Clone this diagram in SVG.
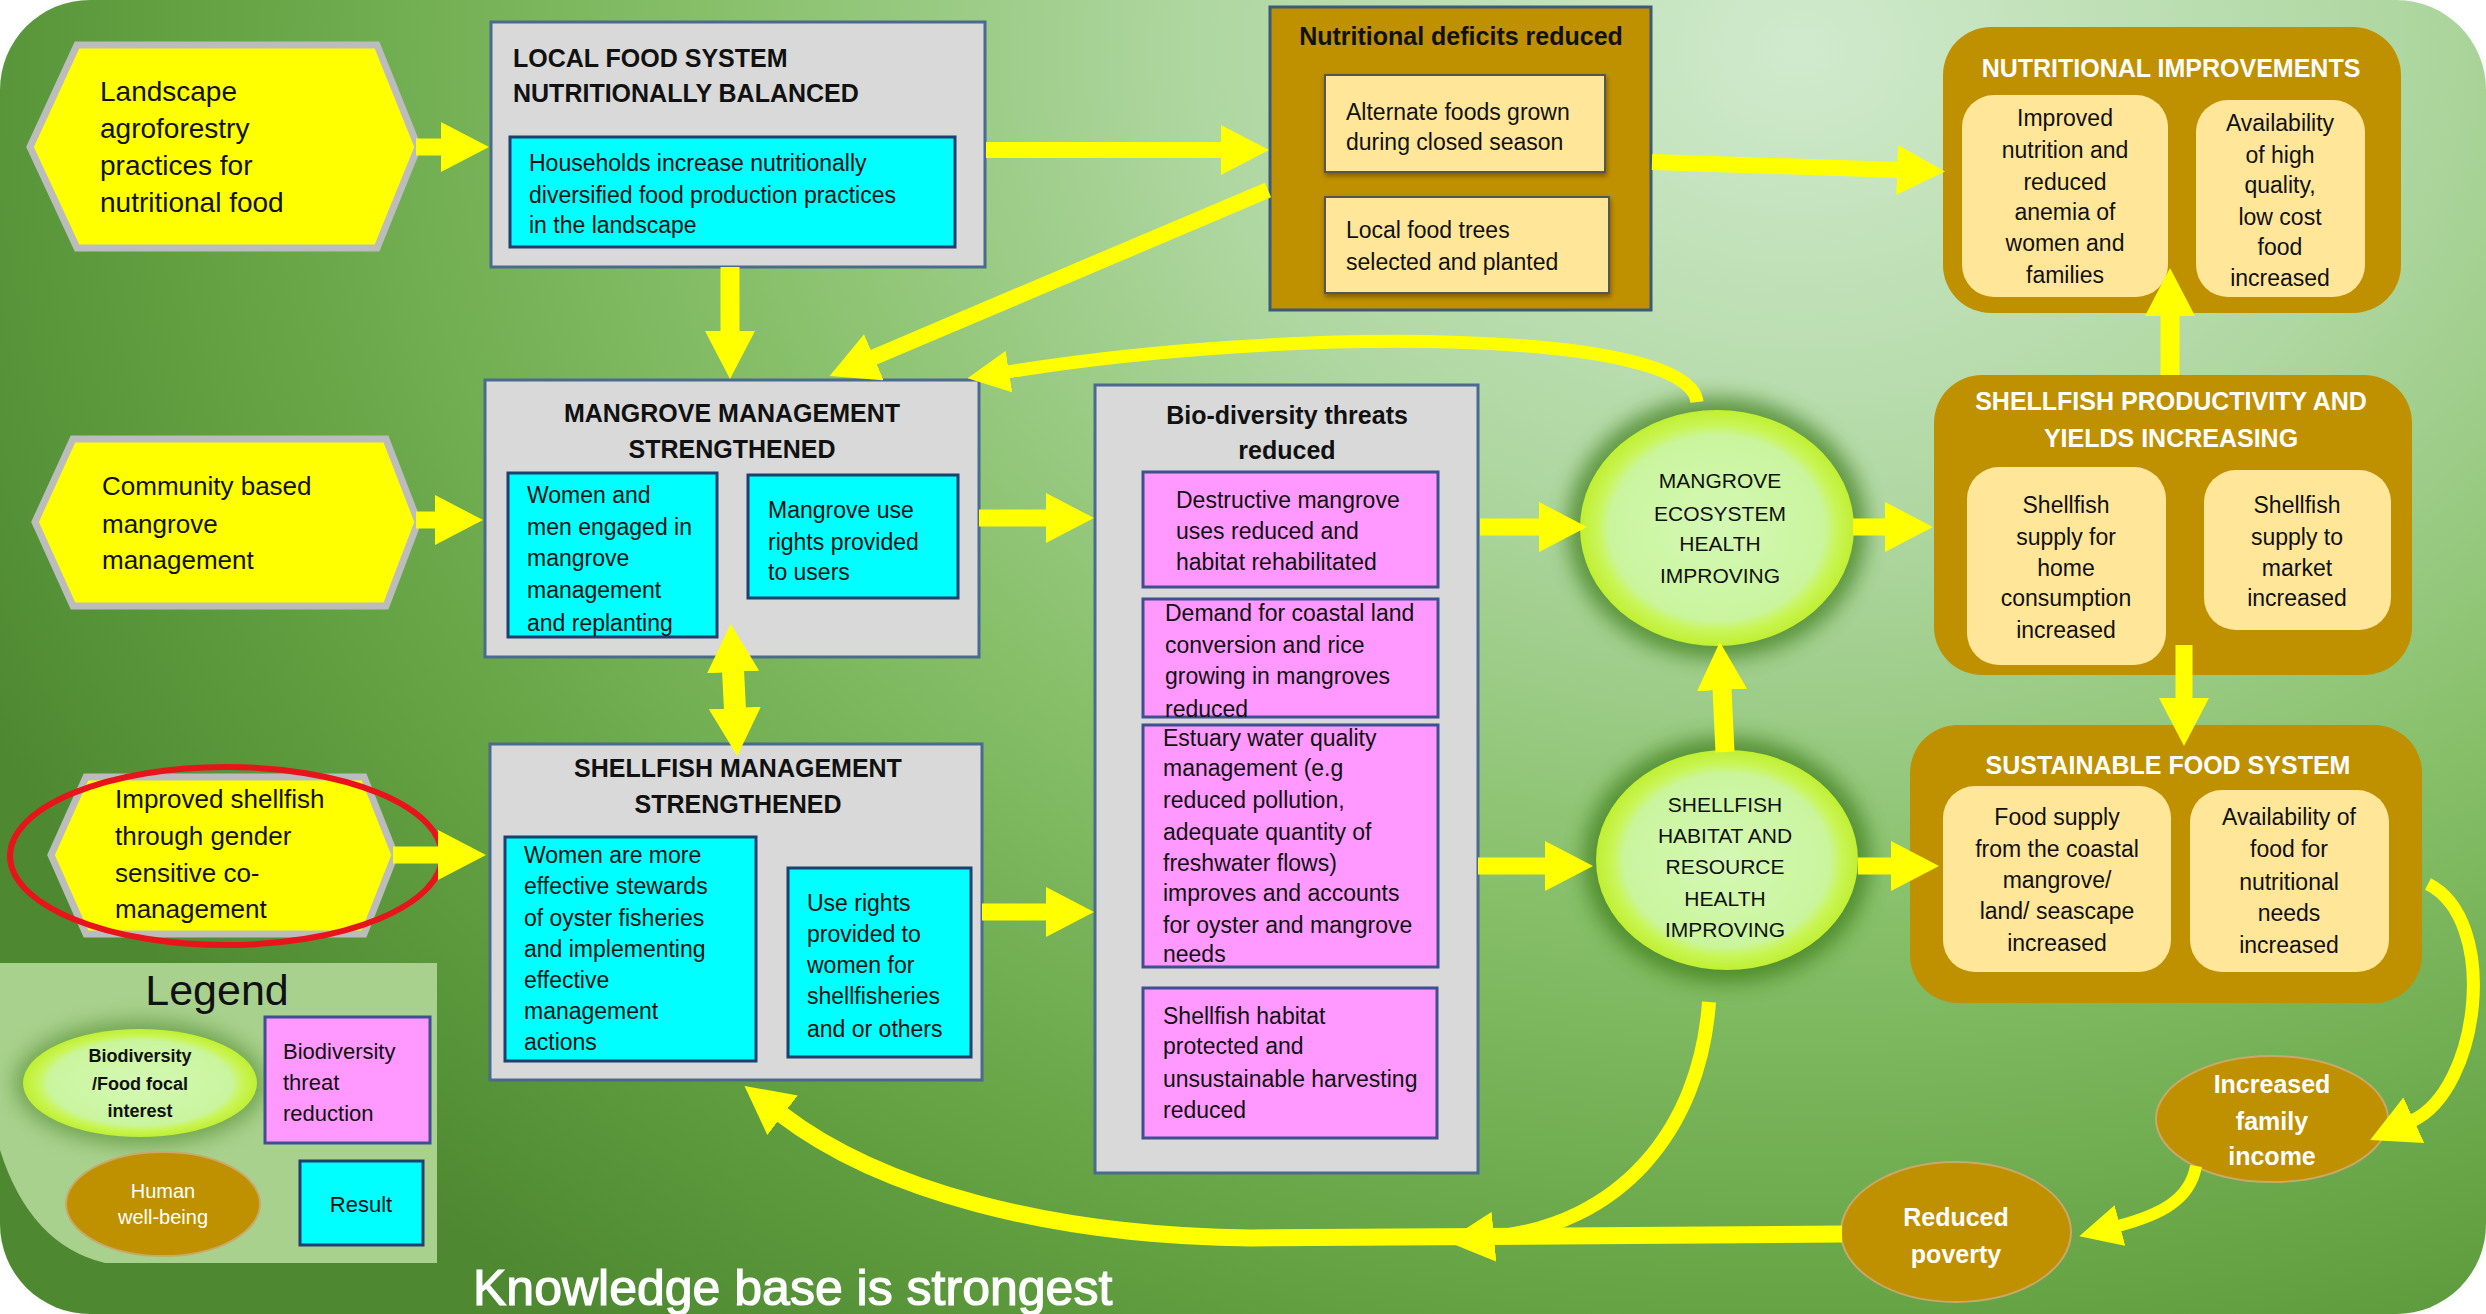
<svg xmlns="http://www.w3.org/2000/svg" width="2486" height="1314" viewBox="0 0 2486 1314">
<defs>
<radialGradient id="bg" gradientUnits="userSpaceOnUse" cx="1800" cy="50" r="1600" gradientTransform="translate(1800 50) scale(1.25 1) translate(-1800 -50)">
<stop offset="0" stop-color="#d0eacd"/>
<stop offset="0.3" stop-color="#afd7a1"/>
<stop offset="0.55" stop-color="#86bf68"/>
<stop offset="0.8" stop-color="#64a243"/>
<stop offset="1" stop-color="#4e8931"/>
</radialGradient>
<radialGradient id="eco" cx="50%" cy="50%" r="50%">
<stop offset="0" stop-color="#d4f8b4"/>
<stop offset="0.78" stop-color="#caf59e"/>
<stop offset="0.88" stop-color="#c9f555"/>
<stop offset="1" stop-color="#c0ef32"/>
</radialGradient>
<filter id="blur" x="-30%" y="-30%" width="160%" height="160%"><feGaussianBlur stdDeviation="10"/></filter>
<filter id="edge" x="-5%" y="-5%" width="110%" height="110%"><feGaussianBlur stdDeviation="6"/></filter>
<filter id="sh" x="-10%" y="-10%" width="120%" height="130%"><feDropShadow dx="1" dy="3" stdDeviation="2.5" flood-color="#000" flood-opacity="0.35"/></filter>
<marker id="ah" markerUnits="userSpaceOnUse" viewBox="0 0 48 50" markerWidth="48" markerHeight="50" refX="2" refY="25" orient="auto"><path d="M0,0 L48,25 L0,50 Z" fill="#ffff00"/></marker>
<marker id="ahs" markerUnits="userSpaceOnUse" viewBox="0 0 42 42" markerWidth="42" markerHeight="42" refX="2" refY="21" orient="auto"><path d="M0,0 L42,21 L0,42 Z" fill="#ffff00"/></marker>
<marker id="ahd" markerUnits="userSpaceOnUse" viewBox="0 0 48 52" markerWidth="48" markerHeight="52" refX="2" refY="26" orient="auto-start-reverse"><path d="M0,0 L48,26 L0,52 Z" fill="#ffff00"/></marker>
<style>
text{font-family:"Liberation Sans",Arial,sans-serif;fill:#111;}
.b{font-size:23px;}
.hx{font-size:26px;}
.tt{font-size:25px;font-weight:bold;}
.tw{font-size:25px;font-weight:bold;fill:#fff;}
.el{font-size:21px;}
.c{text-anchor:middle;}
.gray{fill:#d9d9d9;stroke:#4a6a8f;stroke-width:3;}
.cyan{fill:#00ffff;stroke:#1f3f6f;stroke-width:3;}
.pink{fill:#ff99ff;stroke:#3f4f8f;stroke-width:3;}
.gold{fill:#bf9000;}
.lt{fill:#ffe699;}
.hex{fill:#ffff00;stroke:#bcbcbc;stroke-width:7;}
.con{fill:none;stroke:#ffff00;}
</style>
</defs>

<rect x="0" y="0" width="2486" height="1314" fill="#ffffff"/>
<rect x="4" y="4" width="2478" height="1306" rx="92" fill="#9a9a9a" opacity="0.5" filter="url(#edge)"/>
<rect x="0" y="0" width="2486" height="1314" rx="90" fill="url(#bg)"/>

<g id="hex-landscape">
<polygon class="hex" points="30,147 77,45 377,45 418,147 377,248 77,248"/>
<text style="font-size:28px"><tspan x="100" y="101">Landscape</tspan><tspan x="100" y="138">agroforestry</tspan><tspan x="100" y="175">practices for</tspan><tspan x="100" y="212">nutritional food</tspan></text>
</g>

<g id="hex-community">
<polygon class="hex" points="35,522 73,439 386,439 418,522 386,606 73,606"/>
<text class="hx"><tspan x="102" y="495">Community based</tspan><tspan x="102" y="533">mangrove</tspan><tspan x="102" y="569">management</tspan></text>
</g>

<g id="hex-shellfish">
<polygon class="hex" points="51,855 86,777 364,777 395,855 364,934 86,934"/>
<text class="hx"><tspan x="115" y="808">Improved shellfish</tspan><tspan x="115" y="845">through gender</tspan><tspan x="115" y="882">sensitive co-</tspan><tspan x="115" y="918">management</tspan></text>
<ellipse cx="226" cy="856" rx="216" ry="89" fill="none" stroke="#e8141c" stroke-width="6"/>
</g>

<g id="local-food">
<rect class="gray" x="491" y="22" width="494" height="245"/>
<text class="tt"><tspan x="513" y="67">LOCAL FOOD SYSTEM</tspan><tspan x="513" y="102">NUTRITIONALLY BALANCED</tspan></text>
<rect class="cyan" x="510" y="137" width="445" height="110"/>
<text class="b"><tspan x="529" y="171">Households increase nutritionally</tspan><tspan x="529" y="203">diversified  food production practices</tspan><tspan x="529" y="233">in  the landscape</tspan></text>
</g>

<g id="nutritional-deficits">
<rect x="1270" y="7" width="381" height="303" fill="#bf9000" stroke="#3a5a7a" stroke-width="3"/>
<text class="tt c" x="1461" y="45">Nutritional deficits reduced</text>
<rect class="lt" x="1325" y="75" width="280" height="97" stroke="#555" stroke-width="2" filter="url(#sh)"/>
<text class="b"><tspan x="1346" y="120">Alternate foods grown</tspan><tspan x="1346" y="150">during closed season</tspan></text>
<rect class="lt" x="1325" y="197" width="284" height="96" stroke="#555" stroke-width="2" filter="url(#sh)"/>
<text class="b"><tspan x="1346" y="238">Local food trees</tspan><tspan x="1346" y="270">selected and planted</tspan></text>
</g>

<g id="nutritional-improvements">
<rect class="gold" x="1943" y="27" width="458" height="286" rx="48"/>
<text class="tw c" x="2171" y="77">NUTRITIONAL IMPROVEMENTS</text>
<rect class="lt" x="1962" y="95" width="206" height="202" rx="32"/>
<text class="b c"><tspan x="2065" y="126">Improved</tspan><tspan x="2065" y="158">nutrition and</tspan><tspan x="2065" y="190">reduced</tspan><tspan x="2065" y="220">anemia of</tspan><tspan x="2065" y="251">women and</tspan><tspan x="2065" y="283">families</tspan></text>
<rect class="lt" x="2196" y="100" width="169" height="197" rx="32"/>
<text class="b c"><tspan x="2280" y="131">Availability</tspan><tspan x="2280" y="163">of high</tspan><tspan x="2280" y="193">quality,</tspan><tspan x="2280" y="225">low cost</tspan><tspan x="2280" y="255">food</tspan><tspan x="2280" y="286">increased</tspan></text>
</g>

<g id="mangrove-management">
<rect class="gray" x="485" y="380" width="494" height="277"/>
<text class="tt c"><tspan x="732" y="422">MANGROVE MANAGEMENT</tspan><tspan x="732" y="458">STRENGTHENED</tspan></text>
<rect class="cyan" x="508" y="473" width="209" height="164"/>
<text class="b"><tspan x="527" y="503">Women and</tspan><tspan x="527" y="535">men engaged in</tspan><tspan x="527" y="566">mangrove</tspan><tspan x="527" y="598">management</tspan><tspan x="527" y="631">and replanting</tspan></text>
<rect class="cyan" x="748" y="475" width="210" height="123"/>
<text class="b"><tspan x="768" y="518">Mangrove use</tspan><tspan x="768" y="550">rights provided</tspan><tspan x="768" y="580">to users</tspan></text>
</g>

<g id="shellfish-management">
<rect class="gray" x="490" y="744" width="492" height="336"/>
<text class="tt c"><tspan x="738" y="777">SHELLFISH MANAGEMENT</tspan><tspan x="738" y="813">STRENGTHENED</tspan></text>
<rect class="cyan" x="505" y="837" width="251" height="224"/>
<text class="b"><tspan x="524" y="863">Women are more</tspan><tspan x="524" y="894">effective stewards</tspan><tspan x="524" y="926">of oyster fisheries</tspan><tspan x="524" y="957">and implementing</tspan><tspan x="524" y="988">effective</tspan><tspan x="524" y="1019">management</tspan><tspan x="524" y="1050">actions</tspan></text>
<rect class="cyan" x="788" y="868" width="183" height="189"/>
<text class="b"><tspan x="807" y="911">Use rights</tspan><tspan x="807" y="942">provided to</tspan><tspan x="807" y="973">women for</tspan><tspan x="807" y="1004">shellfisheries</tspan><tspan x="807" y="1037">and or others</tspan></text>
</g>

<g id="biodiversity-threats">
<rect class="gray" x="1095" y="385" width="383" height="788"/>
<text class="tt c"><tspan x="1287" y="424">Bio-diversity threats</tspan><tspan x="1287" y="459">reduced</tspan></text>
<rect class="pink" x="1143" y="472" width="295" height="115"/>
<text class="b"><tspan x="1176" y="508">Destructive mangrove</tspan><tspan x="1176" y="539">uses reduced and</tspan><tspan x="1176" y="570">habitat rehabilitated</tspan></text>
<rect class="pink" x="1143" y="599" width="295" height="118"/>
<text class="b"><tspan x="1165" y="621">Demand for coastal land</tspan><tspan x="1165" y="653">conversion  and rice</tspan><tspan x="1165" y="684">growing in mangroves</tspan><tspan x="1165" y="717">reduced</tspan></text>
<rect class="pink" x="1143" y="725" width="295" height="242"/>
<text class="b"><tspan x="1163" y="746">Estuary  water quality</tspan><tspan x="1163" y="776">management (e.g</tspan><tspan x="1163" y="808">reduced pollution,</tspan><tspan x="1163" y="840">adequate quantity of</tspan><tspan x="1163" y="871">freshwater flows)</tspan><tspan x="1163" y="901">improves and accounts</tspan><tspan x="1163" y="933">for oyster and mangrove</tspan><tspan x="1163" y="962">needs</tspan></text>
<rect class="pink" x="1143" y="988" width="294" height="150"/>
<text class="b"><tspan x="1163" y="1024">Shellfish habitat</tspan><tspan x="1163" y="1054">protected and</tspan><tspan x="1163" y="1087">unsustainable harvesting</tspan><tspan x="1163" y="1118">reduced</tspan></text>
</g>

<g id="mangrove-ecosystem">
<ellipse cx="1717" cy="528" rx="150" ry="131" fill="#3a7a15" opacity="0.7" filter="url(#blur)"/>
<ellipse cx="1717" cy="528" rx="137" ry="118" fill="url(#eco)"/>
<text class="el c"><tspan x="1720" y="488">MANGROVE</tspan><tspan x="1720" y="521">ECOSYSTEM</tspan><tspan x="1720" y="551">HEALTH</tspan><tspan x="1720" y="583">IMPROVING</tspan></text>
</g>

<g id="shellfish-habitat">
<ellipse cx="1727" cy="860" rx="144" ry="123" fill="#3a7a15" opacity="0.7" filter="url(#blur)"/>
<ellipse cx="1727" cy="860" rx="131" ry="110" fill="url(#eco)"/>
<text class="el c"><tspan x="1725" y="812">SHELLFISH</tspan><tspan x="1725" y="843">HABITAT AND</tspan><tspan x="1725" y="874">RESOURCE</tspan><tspan x="1725" y="906">HEALTH</tspan><tspan x="1725" y="937">IMPROVING</tspan></text>
</g>

<g id="shellfish-productivity">
<rect class="gold" x="1934" y="375" width="478" height="300" rx="48"/>
<text class="tw c"><tspan x="2171" y="410">SHELLFISH PRODUCTIVITY AND</tspan><tspan x="2171" y="447">YIELDS INCREASING</tspan></text>
<rect class="lt" x="1967" y="467" width="199" height="198" rx="32"/>
<text class="b c"><tspan x="2066" y="513">Shellfish</tspan><tspan x="2066" y="545">supply for</tspan><tspan x="2066" y="576">home</tspan><tspan x="2066" y="606">consumption</tspan><tspan x="2066" y="638">increased</tspan></text>
<rect class="lt" x="2204" y="470" width="187" height="160" rx="32"/>
<text class="b c"><tspan x="2297" y="513">Shellfish</tspan><tspan x="2297" y="545">supply to</tspan><tspan x="2297" y="576">market</tspan><tspan x="2297" y="606">increased</tspan></text>
</g>

<g id="sustainable-food">
<rect class="gold" x="1910" y="725" width="512" height="278" rx="48"/>
<text class="tw c" x="2168" y="774">SUSTAINABLE FOOD SYSTEM</text>
<rect class="lt" x="1943" y="786" width="228" height="186" rx="32"/>
<text class="b c"><tspan x="2057" y="825">Food supply</tspan><tspan x="2057" y="857">from the coastal</tspan><tspan x="2057" y="888">mangrove/</tspan><tspan x="2057" y="919">land/ seascape</tspan><tspan x="2057" y="951">increased</tspan></text>
<rect class="lt" x="2190" y="790" width="199" height="182" rx="32"/>
<text class="b c"><tspan x="2289" y="825">Availability of</tspan><tspan x="2289" y="857">food for</tspan><tspan x="2289" y="890">nutritional</tspan><tspan x="2289" y="921">needs</tspan><tspan x="2289" y="953">increased</tspan></text>
</g>

<g id="family-income">
<ellipse cx="2272" cy="1119" rx="116" ry="63" fill="#bf9000" stroke="#c9a96a" stroke-width="2"/>
<text class="tw c"><tspan x="2272" y="1093">Increased</tspan><tspan x="2272" y="1130">family</tspan><tspan x="2272" y="1165">income</tspan></text>
</g>

<g id="reduced-poverty">
<ellipse cx="1956" cy="1232" rx="115" ry="70" fill="#bf9000" stroke="#c9a96a" stroke-width="2"/>
<text class="tw c"><tspan x="1956" y="1226">Reduced</tspan><tspan x="1956" y="1263">poverty</tspan></text>
</g>

<g id="legend">
<path d="M0,963 L437,963 L437,1263 L105,1263 Q30,1245 0,1150 Z" fill="#a9d18e"/>
<text x="217" y="1005" class="c" style="font-size:43px">Legend</text>
<ellipse cx="140" cy="1083" rx="126" ry="63" fill="#3a7a15" opacity="0.5" filter="url(#blur)"/>
<ellipse cx="140" cy="1083" rx="117" ry="54" fill="url(#eco)"/>
<text class="c" style="font-size:18px;font-weight:bold"><tspan x="140" y="1062">Biodiversity</tspan><tspan x="140" y="1090">/Food  focal</tspan><tspan x="140" y="1117">interest</tspan></text>
<rect class="pink" x="265" y="1017" width="165" height="126"/>
<text style="font-size:22px"><tspan x="283" y="1059">Biodiversity</tspan><tspan x="283" y="1090">threat</tspan><tspan x="283" y="1121">reduction</tspan></text>
<ellipse cx="163" cy="1204" rx="97" ry="52" fill="#bf9000" stroke="#c9a96a" stroke-width="2"/>
<text class="c" style="font-size:20px;fill:#fff"><tspan x="163" y="1198">Human</tspan><tspan x="163" y="1224">well-being</tspan></text>
<rect class="cyan" x="300" y="1161" width="123" height="84"/>
<text x="361" y="1212" class="c" style="font-size:22px">Result</text>
</g>

<g id="connectors">
<path class="con" stroke-width="17" d="M416,147 L443,147" marker-end="url(#ah)"/>
<path class="con" stroke-width="16" d="M986,150 L1223,150" marker-end="url(#ah)"/>
<path class="con" stroke-width="16" d="M1652,162 L1899,170" marker-end="url(#ah)"/>
<path class="con" stroke-width="16" d="M1268,190 L872,358" marker-end="url(#ah)"/>
<path class="con" stroke-width="19" d="M730,267 L730,333" marker-end="url(#ah)"/>
<path class="con" stroke-width="17" d="M416,520 L437,520" marker-end="url(#ah)"/>
<path class="con" stroke-width="17" d="M979,518 L1048,518" marker-end="url(#ah)"/>
<path class="con" stroke-width="17" d="M1480,527 L1541,527" marker-end="url(#ah)"/>
<path class="con" stroke-width="17" d="M1853,527 L1887,527" marker-end="url(#ah)"/>
<path class="con" stroke-width="19" d="M2170,375 L2170,314" marker-end="url(#ah)"/>
<path class="con" stroke-width="17" d="M2184,645 L2184,700" marker-end="url(#ah)"/>
<path class="con" stroke-width="19" d="M1725,752 L1722,688" marker-end="url(#ah)"/>
<path class="con" stroke-width="17" d="M1478,866 L1547,866" marker-end="url(#ah)"/>
<path class="con" stroke-width="17" d="M1858,866 L1893,866" marker-end="url(#ah)"/>
<path class="con" stroke-width="17" d="M982,912 L1048,912" marker-end="url(#ah)"/>
<path class="con" stroke-width="17" d="M393,855 L440,855" marker-end="url(#ah)"/>
<path class="con" stroke-width="22" d="M733,670 L735,710" marker-start="url(#ahd)" marker-end="url(#ahd)"/>
<path class="con" stroke-width="13" d="M1697,402 C1690,330 1300,325 1007,372" marker-end="url(#ahs)"/>
<path class="con" stroke-width="14" d="M1709,1002 C1700,1130 1620,1225 1492,1237" marker-end="url(#ah)"/>
<path class="con" stroke-width="17" d="M1842,1234 L1250,1238 C1050,1236 880,1190 781,1114" marker-end="url(#ah)"/>
<path class="con" stroke-width="13" d="M2428,884 C2500,920 2480,1090 2412,1121" marker-end="url(#ah)"/>
<path class="con" stroke-width="12" d="M2196,1166 C2190,1200 2160,1215 2118,1226" marker-end="url(#ahs)"/>
</g>

<text x="473" y="1305" style="font-size:50px;fill:#fff;stroke:#fff;stroke-width:1.2">Knowledge base is strongest</text>
</svg>
